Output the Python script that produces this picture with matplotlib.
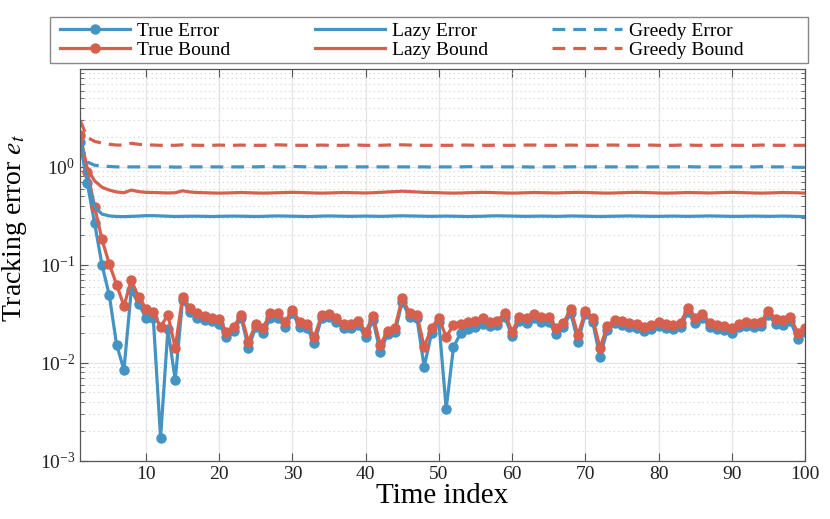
import matplotlib
matplotlib.use("Agg")
import matplotlib.pyplot as plt
from matplotlib.patches import Rectangle
from matplotlib.ticker import LogLocator, NullFormatter

# time steps
t = list(range(1, 101))

true_error = [
    1.80, 0.68, 0.265, 0.100, 0.049, 0.0153, 0.0085, 0.0555, 0.040, 0.029,
    0.029, 0.00172, 0.022, 0.0067, 0.044, 0.033, 0.029, 0.0275, 0.0265, 0.025,
    0.0183, 0.021, 0.029, 0.0142, 0.0233, 0.020, 0.029, 0.029, 0.0233, 0.0324,
    0.0233, 0.0228, 0.016, 0.0288, 0.0295, 0.0262, 0.0228, 0.0228, 0.0244, 0.0184,
    0.0275, 0.0129, 0.0198, 0.0207, 0.042, 0.0295, 0.0288, 0.0091, 0.0202, 0.0262,
    0.0034, 0.0146, 0.0202, 0.0222, 0.0233, 0.025, 0.0238, 0.0244, 0.0295, 0.0188,
    0.0268, 0.0256, 0.0288, 0.0262, 0.0262, 0.0198, 0.0233, 0.0324, 0.0164, 0.0316,
    0.0262, 0.0115, 0.0217, 0.0256, 0.0244, 0.0233, 0.0228, 0.0212, 0.0222, 0.0238,
    0.0228, 0.0222, 0.0233, 0.033, 0.0256, 0.0288, 0.0233, 0.0222, 0.0217, 0.0202,
    0.0233, 0.0238, 0.0233, 0.0238, 0.031, 0.025, 0.0244, 0.0268, 0.0176, 0.0207,
]

true_bound = [
    2.12, 0.89, 0.39, 0.182, 0.102, 0.063, 0.038, 0.070, 0.047, 0.0355,
    0.033, 0.0233, 0.031, 0.0142, 0.047, 0.0364, 0.0324, 0.030, 0.0288, 0.0282,
    0.0207, 0.0233, 0.031, 0.0164, 0.025, 0.0228, 0.0324, 0.0324, 0.0262, 0.0346,
    0.0262, 0.025, 0.0184, 0.031, 0.0316, 0.0288, 0.025, 0.025, 0.0268, 0.0207,
    0.0301, 0.0153, 0.0212, 0.0228, 0.046, 0.0324, 0.031, 0.0146, 0.0228, 0.0288,
    0.0184, 0.0244, 0.025, 0.0262, 0.0268, 0.0288, 0.0262, 0.0268, 0.0324, 0.0207,
    0.0295, 0.0288, 0.0316, 0.0295, 0.0295, 0.0228, 0.0256, 0.0355, 0.0193, 0.0337,
    0.0288, 0.0142, 0.0238, 0.0275, 0.0268, 0.0256, 0.025, 0.0233, 0.0244, 0.0262,
    0.025, 0.0244, 0.0256, 0.0364, 0.0288, 0.0316, 0.0256, 0.0244, 0.0238, 0.0228,
    0.025, 0.0262, 0.0256, 0.0262, 0.0337, 0.0281, 0.0275, 0.0295, 0.0202, 0.0228,
]

lazy_error = [
    1.80, 0.74, 0.39, 0.33, 0.316, 0.312, 0.311, 0.313, 0.315, 0.318,
    0.318, 0.316, 0.314, 0.312, 0.313, 0.314, 0.314, 0.313, 0.312, 0.313,
    0.314, 0.315, 0.314, 0.313, 0.312, 0.313, 0.315, 0.316, 0.315, 0.314,
    0.313, 0.312, 0.313, 0.315, 0.316, 0.315, 0.314, 0.313, 0.314, 0.315,
    0.314, 0.313, 0.314, 0.316, 0.317, 0.316, 0.315, 0.314, 0.313, 0.314,
    0.315, 0.314, 0.313, 0.312, 0.313, 0.314, 0.316, 0.317, 0.316, 0.315,
    0.314, 0.313, 0.314, 0.315, 0.314, 0.313, 0.314, 0.316, 0.315, 0.314,
    0.313, 0.312, 0.313, 0.314, 0.315, 0.316, 0.315, 0.314, 0.313, 0.313,
    0.314, 0.315, 0.314, 0.313, 0.314, 0.315, 0.316, 0.315, 0.314, 0.313,
    0.313, 0.314, 0.315, 0.314, 0.313, 0.314, 0.315, 0.314, 0.312, 0.311,
]

lazy_bound = [
    2.12, 0.95, 0.72, 0.62, 0.58, 0.555, 0.545, 0.58, 0.56, 0.55,
    0.548, 0.545, 0.542, 0.545, 0.57, 0.555, 0.548, 0.545, 0.542, 0.54,
    0.542, 0.545, 0.548, 0.545, 0.542, 0.54, 0.542, 0.545, 0.548, 0.55,
    0.548, 0.545, 0.542, 0.54, 0.542, 0.545, 0.548, 0.546, 0.544, 0.542,
    0.545, 0.55, 0.555, 0.56, 0.565, 0.56, 0.555, 0.55, 0.548, 0.545,
    0.542, 0.54, 0.542, 0.545, 0.548, 0.55, 0.548, 0.545, 0.542, 0.54,
    0.542, 0.545, 0.548, 0.546, 0.544, 0.542, 0.545, 0.548, 0.55, 0.548,
    0.545, 0.542, 0.54, 0.542, 0.545, 0.548, 0.55, 0.548, 0.545, 0.542,
    0.54, 0.542, 0.545, 0.548, 0.546, 0.544, 0.542, 0.545, 0.548, 0.55,
    0.548, 0.545, 0.542, 0.54, 0.542, 0.545, 0.548, 0.546, 0.544, 0.54,
]

greedy_error = [
    1.80, 1.12, 1.04, 1.02, 1.01, 1.0, 1.0, 1.0, 1.0, 1.0,
    1.0, 1.0, 1.0, 0.995, 0.995, 1.0, 1.0, 1.0, 1.0, 1.0,
    0.995, 1.0, 1.0, 1.0, 1.0, 1.005, 1.005, 1.0, 1.0, 1.01,
    1.005, 1.0, 1.0, 0.995, 1.0, 1.0, 1.0, 1.0, 1.0, 1.0,
    1.005, 1.0, 1.0, 1.0, 1.0, 1.0, 1.0, 1.0, 0.995, 1.0,
    1.0, 1.0, 1.0, 1.005, 1.005, 1.0, 1.0, 1.0, 1.0, 1.0,
    1.0, 1.0, 0.995, 1.0, 1.0, 1.0, 1.0, 1.0, 1.005, 1.0,
    1.0, 1.0, 1.0, 1.0, 1.0, 1.0, 1.0, 0.995, 1.0, 1.0,
    1.0, 1.0, 1.0, 1.005, 1.0, 1.0, 1.0, 1.0, 1.0, 1.0,
    1.0, 1.0, 1.0, 1.005, 1.0, 1.0, 1.0, 0.995, 0.99, 0.99,
]

greedy_bound = [
    3.0, 2.0, 1.82, 1.75, 1.70, 1.67, 1.67, 1.74, 1.70, 1.68,
    1.67, 1.66, 1.66, 1.66, 1.68, 1.67, 1.66, 1.66, 1.66, 1.67,
    1.66, 1.66, 1.67, 1.66, 1.66, 1.66, 1.67, 1.68, 1.67, 1.66,
    1.66, 1.66, 1.66, 1.67, 1.66, 1.66, 1.66, 1.67, 1.67, 1.66,
    1.66, 1.66, 1.67, 1.68, 1.68, 1.67, 1.66, 1.66, 1.66, 1.66,
    1.66, 1.66, 1.67, 1.67, 1.66, 1.66, 1.66, 1.67, 1.66, 1.66,
    1.66, 1.67, 1.67, 1.66, 1.66, 1.66, 1.66, 1.67, 1.66, 1.66,
    1.66, 1.66, 1.67, 1.67, 1.66, 1.66, 1.66, 1.66, 1.67, 1.66,
    1.66, 1.66, 1.67, 1.67, 1.66, 1.66, 1.66, 1.66, 1.67, 1.66,
    1.66, 1.66, 1.66, 1.67, 1.67, 1.66, 1.66, 1.66, 1.66, 1.66,
]

blue = "#4393c3"
red = "#d6604d"

plt.rcParams["font.family"] = ["Liberation Serif", "DejaVu Serif"]
plt.rcParams["mathtext.fontset"] = "stix"

fig = plt.figure(figsize=(8.3, 5.19), dpi=100)
ax = fig.add_axes([0.0964, 0.1118, 0.8735, 0.7555])

lw = 2.3
dash = (0, (4, 2.5))
l1, = ax.plot(t, true_error, color=blue, lw=lw, marker="o", ms=6.5, label="True Error")
l2, = ax.plot(t, true_bound, color=red, lw=lw, marker="o", ms=6.5, label="True Bound")
l3, = ax.plot(t, lazy_error, color=blue, lw=lw, label="Lazy Error")
l4, = ax.plot(t, lazy_bound, color=red, lw=lw, label="Lazy Bound")
l5, = ax.plot(t, greedy_error, color=blue, lw=lw, ls=dash, label="Greedy Error")
l6, = ax.plot(t, greedy_bound, color=red, lw=lw, ls=dash, label="Greedy Bound")

ax.set_yscale("log")
ax.set_xlim(1, 100)
ax.set_ylim(1e-3, 1e1)
ax.set_xticks(range(10, 101, 10))
ax.set_yticks([1e-3, 1e-2, 1e-1, 1e0])
ax.yaxis.set_minor_locator(LogLocator(base=10, subs=range(2, 10), numticks=20))
ax.yaxis.set_minor_formatter(NullFormatter())

ax.grid(True, which="major", color="#e4e4e4", lw=0.9, ls="-")
ax.grid(True, which="minor", axis="y", color="#cfcfcf", lw=0.8, ls=(0, (1, 3)))
ax.set_axisbelow(True)

for s in ax.spines.values():
    s.set_color("#555555")
    s.set_linewidth(0.9)
ax.tick_params(which="both", direction="in", top=True, right=True,
               colors="#555555", labelcolor="#222222", labelsize=14)
ax.tick_params(which="major", length=6)
ax.tick_params(which="minor", length=3)

ax.set_xlabel("Time index", fontsize=21, labelpad=0)
ax.set_ylabel("Tracking error $e_t$", fontsize=20, labelpad=4)
ax.yaxis.set_label_coords(-0.07, 0.593)

# legend box above the axes, one frameless legend per column
box = Rectangle((50 / 830, 1 - 63 / 519), 758 / 830, 46 / 519,
                transform=fig.transFigure, facecolor="white",
                edgecolor="#888888", lw=1.0)
fig.patches.append(box)
columns = [([l1, l2], 60), ([l3, l4], 315), ([l5, l6], 552)]
for handles, xpx in columns:
    leg = fig.legend(handles=handles, loc="center left",
                     bbox_to_anchor=(xpx / 830, 1 - 40.5 / 519),
                     frameon=False, fontsize=14, handlelength=3.6,
                     handletextpad=0.35, labelspacing=0.05,
                     borderpad=0, borderaxespad=0)

fig.savefig("out.png", dpi=100)
